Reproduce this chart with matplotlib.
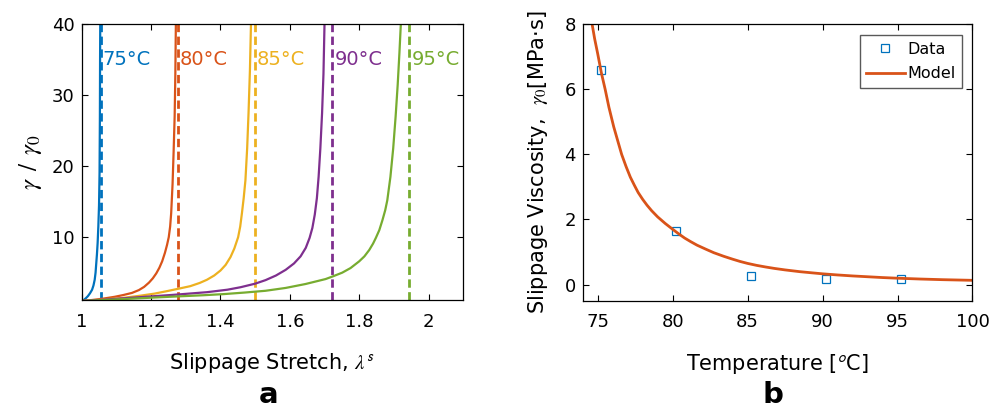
import numpy as np
import matplotlib
matplotlib.use("Agg")
import matplotlib.pyplot as plt

plt.rcParams['font.family'] = ['DejaVu Sans']
plt.rcParams['mathtext.fontset'] = 'stix'

###############################################################################
# data
###############################################################################
temps = ['75', '80', '85', '90', '95']
colors = ['#0072BD', '#D95319', '#EDB120', '#7E2F8E', '#77AC30']

lam_75 = [1.000, 1.006, 1.012, 1.018, 1.024, 1.030, 1.034, 1.0375, 1.040, 1.042, 1.044,
          1.046, 1.048, 1.050, 1.0515, 1.0525, 1.053, 1.0535, 1.054]
gam_75 = [1.0, 1.15, 1.4, 1.7, 2.1, 2.6, 3.2, 4.0, 5.0, 6.3, 7.6,
          9.2, 11.5, 14.5, 19.0, 27.0, 35.0, 40.0, 46.0]

lam_80 = [1.000, 1.030, 1.060, 1.095, 1.120, 1.145, 1.165, 1.180, 1.194, 1.205, 1.215,
          1.224, 1.232, 1.240, 1.246, 1.251, 1.255, 1.258, 1.262, 1.265, 1.268, 1.270,
          1.2715, 1.272]
gam_80 = [1.0, 1.15, 1.33, 1.6, 1.85, 2.15, 2.55, 3.0, 3.6, 4.2, 4.9,
          5.7, 6.6, 7.8, 8.9, 10.0, 11.5, 13.4, 17.5, 22.0, 27.0, 33.0,
          40.0, 46.0]

lam_85 = [1.000, 1.060, 1.120, 1.168, 1.210, 1.246, 1.280, 1.313, 1.340, 1.361, 1.382,
          1.400, 1.415, 1.429, 1.440, 1.451, 1.457, 1.462, 1.467, 1.472, 1.477, 1.481,
          1.485, 1.488, 1.489]
gam_85 = [1.0, 1.2, 1.45, 1.75, 2.05, 2.4, 2.75, 3.1, 3.55, 4.0, 4.6,
          5.3, 6.1, 7.2, 8.4, 10.0, 11.5, 13.4, 15.5, 18.0, 22.5, 27.5,
          33.5, 40.0, 46.0]

lam_90 = [1.000, 1.080, 1.168, 1.265, 1.361, 1.420, 1.458, 1.500, 1.530, 1.560, 1.588,
          1.612, 1.631, 1.646, 1.657, 1.665, 1.672, 1.678, 1.683, 1.688, 1.693, 1.697,
          1.700, 1.701]
gam_90 = [1.0, 1.25, 1.55, 1.88, 2.25, 2.6, 2.95, 3.45, 3.95, 4.6, 5.4,
          6.3, 7.3, 8.5, 9.9, 11.3, 13.2, 15.5, 18.5, 22.5, 27.5, 33.0,
          40.0, 46.0]

lam_95 = [1.000, 1.080, 1.168, 1.265, 1.350, 1.409, 1.470, 1.530, 1.588, 1.645, 1.703,
          1.7225, 1.751, 1.775, 1.800, 1.815, 1.829, 1.840, 1.848, 1.858, 1.867, 1.875,
          1.881, 1.890, 1.898, 1.905, 1.911, 1.916, 1.920, 1.921]
gam_95 = [1.0, 1.18, 1.4, 1.63, 1.82, 1.98, 2.2, 2.45, 2.85, 3.4, 4.1,
          4.45, 5.0, 5.65, 6.6, 7.3, 8.2, 9.1, 9.9, 11.0, 12.4, 13.8,
          15.2, 18.5, 22.5, 27.0, 31.5, 36.0, 40.0, 46.0]

lam_curves = [lam_75, lam_80, lam_85, lam_90, lam_95]
gam_curves = [gam_75, gam_80, gam_85, gam_90, gam_95]
lam_lock = [1.055, 1.277, 1.499, 1.7225, 1.945]

T_data = [75.2, 80.2, 85.2, 90.2, 95.2]
V_data = [6.6, 1.66, 0.25, 0.16, 0.17]

T_model = [74.55, 74.63, 74.8, 75.0, 75.25, 75.5, 75.75, 76.07, 76.35, 76.6, 76.9, 77.18,
           77.45, 77.7, 78.0, 78.29, 78.6, 79.0, 79.5, 80.0, 80.4, 80.8, 81.2, 81.63,
           82.2, 82.74, 83.4, 84.0, 84.5, 85.0, 85.6, 86.2, 86.8, 87.5, 88.5, 89.3,
           90.0, 91.0, 92.0, 93.0, 94.0, 95.0, 96.5, 98.0, 100.0]
V_model = [8.3, 8.0, 7.55, 7.1, 6.5, 6.0, 5.45, 4.85, 4.4, 4.0, 3.62, 3.3,
           3.05, 2.83, 2.62, 2.44, 2.27, 2.08, 1.88, 1.70, 1.56, 1.43, 1.32, 1.21,
           1.09, 0.98, 0.87, 0.78, 0.71, 0.65, 0.59, 0.54, 0.495, 0.45, 0.395, 0.36,
           0.33, 0.295, 0.265, 0.24, 0.215, 0.195, 0.17, 0.15, 0.13]

###############################################################################
# figure
###############################################################################
fig = plt.figure(figsize=(10.01, 4.09), dpi=100)
ax1 = fig.add_axes([0.0816, 0.2665, 0.3812, 0.6741])
ax2 = fig.add_axes([0.5821, 0.2645, 0.3894, 0.6761])

for ax in (ax1, ax2):
    ax.tick_params(direction='in', top=True, right=True, length=4, width=0.8,
                   labelsize=13, colors='black')
    ax.tick_params(axis='x', pad=9)
    ax.tick_params(axis='y', pad=5)
    for s in ax.spines.values():
        s.set_linewidth(0.9)

# panel a
for i in range(len(temps)):
    ax1.plot(lam_curves[i], gam_curves[i], color=colors[i], lw=1.6)
    ax1.axvline(lam_lock[i], color=colors[i], lw=2.0, linestyle=(0, (3, 1.6)))
    ax1.text(lam_lock[i] + 0.006, 35, temps[i] + '°C', color=colors[i], fontsize=14,
             ha='left', va='center')
ax1.set_xlim(1, 2.1)
ax1.set_ylim(1.15, 40)
ax1.set_xticks([1, 1.2, 1.4, 1.6, 1.8, 2])
ax1.set_xticklabels(['1', '1.2', '1.4', '1.6', '1.8', '2'])
ax1.set_yticks([10, 20, 30, 40])
ax1.set_xlabel(r'Slippage Stretch, $\lambda^{\mathsf{s}}$', fontsize=15)
ax1.set_ylabel(r'$\gamma\ \,/\ \,\gamma_0$', fontsize=18)
ax1.xaxis.set_label_coords(0.5, -0.185)
ax1.yaxis.set_label_coords(-0.1, 0.5)

# panel b
ax2.plot(T_data, V_data, linestyle='none', marker='s', markersize=6,
         markerfacecolor='none', markeredgecolor='#0072BD', markeredgewidth=0.9, label='Data')
ax2.plot(T_model, V_model, color='#D95319', lw=2.0, label='Model')
ax2.set_xlim(74, 100)
ax2.set_ylim(-0.5, 8)
ax2.set_xticks([75, 80, 85, 90, 95, 100])
ax2.set_yticks([0, 2, 4, 6, 8])
ax2.set_xlabel(r'Temperature [$^{\mathsf{o}}$C]', fontsize=15)
ax2.set_ylabel(r'Slippage Viscosity,  $\gamma_0$[MPa·s]', fontsize=15)
ax2.xaxis.set_label_coords(0.5, -0.185)
ax2.yaxis.set_label_coords(-0.085, 0.5)
leg = ax2.legend(loc='upper right', bbox_to_anchor=(0.972, 0.96), borderaxespad=0,
                 fontsize=11.5, fancybox=False, framealpha=1, edgecolor='0.35',
                 handlelength=2.4, handletextpad=0.15, borderpad=0.4, labelspacing=0.6)
leg.get_frame().set_linewidth(1.0)

fig.text(0.268, 0.015, 'a', fontsize=21, fontweight='bold', ha='center', va='baseline')
fig.text(0.772, 0.015, 'b', fontsize=21, fontweight='bold', ha='center', va='baseline')

fig.savefig('out.png', dpi=100)
